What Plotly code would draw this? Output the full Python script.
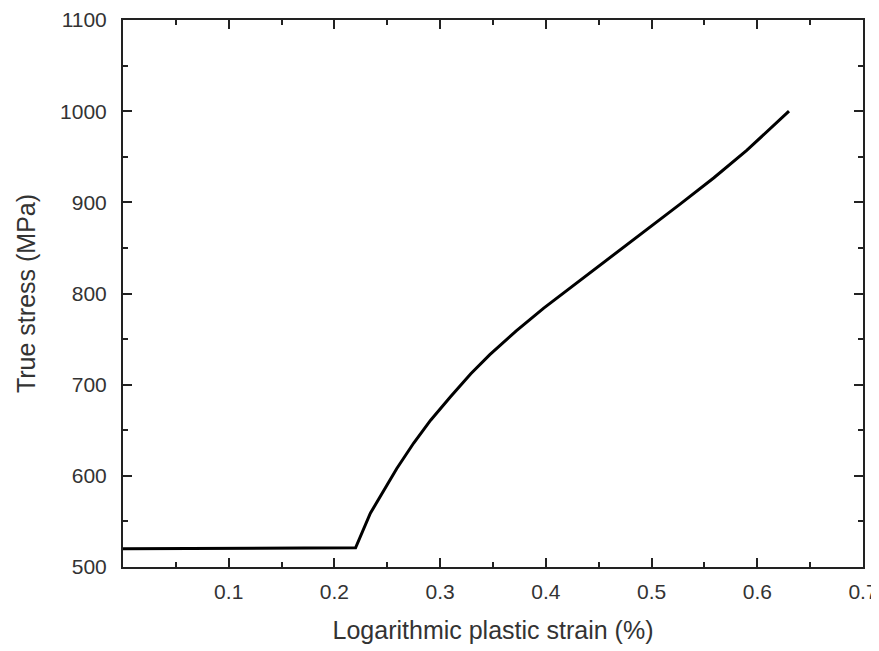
import plotly.graph_objects as go

strain = [0.0, 0.220, 0.234, 0.247, 0.259, 0.275, 0.291, 0.310, 0.329, 0.347,
          0.372, 0.398, 0.433, 0.464, 0.496, 0.527, 0.559, 0.590, 0.630]
stress = [520, 521, 559, 584, 608, 636, 661, 687, 712, 733,
          759, 784, 815, 842, 870, 898, 927, 957, 1000]

x_tickvals = [0.0, 0.1, 0.2, 0.3, 0.4, 0.5, 0.6, 0.7]
x_ticktext = ["", "0.1", "0.2", "0.3", "0.4", "0.5", "0.6", "0.7"]
y_tickvals = [500, 600, 700, 800, 900, 1000, 1100]

fig = go.Figure()
fig.add_trace(go.Scatter(x=strain, y=stress, mode="lines",
                         line=dict(color="black", width=3), showlegend=False))

font_family = "Liberation Sans, Arial, sans-serif"
axis_common = dict(
    showgrid=False, zeroline=False, showline=True, linecolor="#222", linewidth=2,
    mirror="allticks", ticks="inside", ticklen=9, tickwidth=2, tickcolor="#222",
    tickfont=dict(family=font_family, size=21, color="#333"),
)

fig.update_xaxes(
    range=[0, 0.7], tickmode="array", tickvals=x_tickvals, ticktext=x_ticktext,
    minor=dict(tickmode="linear", tick0=0, dtick=0.05, ticks="inside", ticklen=5,
               tickwidth=2, tickcolor="#222"),
    title=dict(text="Logarithmic plastic strain (%)",
               font=dict(family=font_family, size=25, color="#333"), standoff=19),
    ticklabelstandoff=5,
    **axis_common,
)
fig.update_yaxes(
    range=[500, 1100], tickmode="array", tickvals=y_tickvals,
    minor=dict(tickmode="linear", tick0=500, dtick=50, ticks="inside", ticklen=5,
               tickwidth=2, tickcolor="#222"),
    title=dict(text="True stress (MPa)",
               font=dict(family=font_family, size=25, color="#333"), standoff=17),
    ticklabelstandoff=10,
    **axis_common,
)

fig.update_layout(
    width=871, height=643,
    margin=dict(l=115, r=16, t=12, b=84, autoexpand=False),
    plot_bgcolor="white", paper_bgcolor="white",
)

fig.write_html("out.html")
